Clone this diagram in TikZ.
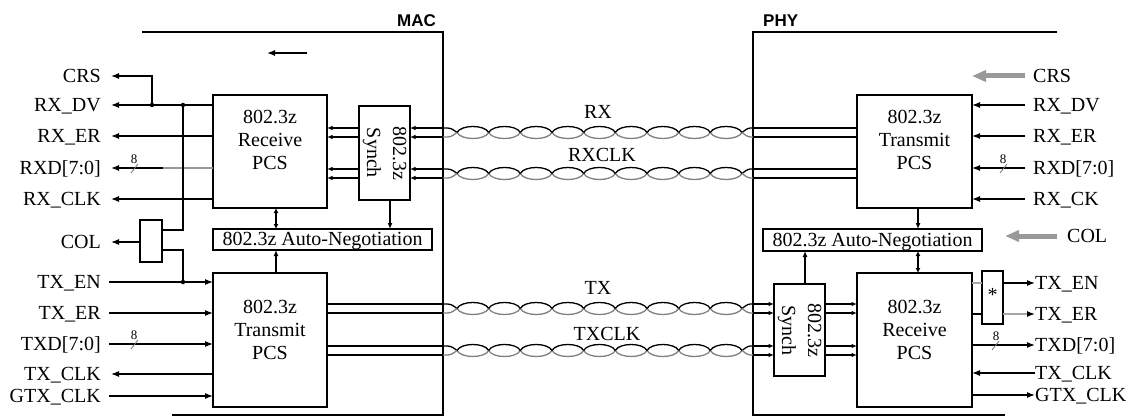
\documentclass[tikz,border=0pt]{standalone}
\usepackage{fontspec}
\setmainfont{Liberation Serif}
\newfontfamily\hdsans{Liberation Sans}
\usetikzlibrary{arrows.meta}
\tikzset{
  ln/.style={line width=1.2pt},
  arr/.style={ln,-{Latex[length=8pt,width=6pt]}},
  sarr/.style={line width=1.1pt,-{Latex[length=5.5pt,width=4.5pt]}},
  darr/.style={ln,{Latex[length=5pt,width=5pt]}-{Latex[length=5pt,width=5pt]}},
  garr/.style={line width=5pt,draw=black!40,-{Triangle[length=14pt,width=11pt]}},
  box/.style={draw,line width=1.2pt,inner sep=0pt,outer sep=0pt},
  lab/.style={font=\fontsize{20}{22}\selectfont,inner sep=0pt,text height=12.8pt,text depth=0pt},
  boxtxt/.style={align=center,inner sep=0pt,font=\fontsize{20}{23}\selectfont},
  syntxt/.style={align=center,inner sep=0pt,rotate=-90,font=\fontsize{20}{26}\selectfont},
  ttl/.style={font=\hdsans\bfseries\fontsize{17}{17}\selectfont,inner sep=0pt},
  cnt/.style={font=\fontsize{13}{13}\selectfont,inner sep=0pt},
  slashmk/.style={line width=0.8pt,draw=black!55},
  dot/.style={circle,fill,inner sep=0pt,minimum size=4.5pt},
  twtop/.style={line width=1.3pt,draw=black},
  twbot/.style={line width=1.3pt,draw=black!50}
}
% twisted pair between x=443 and x=753; #1 top y, #2 bottom y
\newcommand\twpair[2]{%
  \pgfmathsetmacro\ym{(#1+#2)/2}%
  \pgfmathsetmacro\yt{\ym-8}%
  \pgfmathsetmacro\yb{\ym+8}%
  \draw[twtop] (443,#1) .. controls (451,#1) .. (457,\ym);
  \draw[twbot] (443,#2) .. controls (451,#2) .. (457,\ym);
  \foreach \k in {0,...,8}{%
    \pgfmathsetmacro\xa{457+31.667*\k}%
    \pgfmathsetmacro\xb{\xa+31.667}%
    \draw[twbot] (\xa,\ym) .. controls (\xa+4,\yb) and (\xb-4,\yb) .. (\xb,\ym);
    \draw[twtop] (\xa,\ym) .. controls (\xa+4,\yt) and (\xb-4,\yt) .. (\xb,\ym);
  }
  \draw[twtop] (742,\ym) .. controls (748,#1) .. (753,#1);
  \draw[twbot] (742,\ym) .. controls (748,#2) .. (753,#2);
}
\begin{document}
\begin{tikzpicture}[x=1pt,y=-1pt]
\useasboundingbox (0,0) rectangle (1130,417);

% ---------- frames ----------
\coordinate (macTL) at (142,32);
\coordinate (macR) at (443,32);
\coordinate (macBR) at (443,415);
\coordinate (macBL) at (172,415);
\coordinate (phyL) at (753,32);
\coordinate (phyTR) at (1057,32);
\coordinate (phyBL) at (753,415);
\coordinate (phyBR) at (1005,415);
\draw[ln] (macTL) -- (macR) -- (macBR) -- (macBL);
\draw[ln] (phyTR) -- (phyL) -- (phyBL) -- (phyBR);
\node[ttl,anchor=base east] (mac) at (436,27) {MAC};
\node[ttl,anchor=base west] (phy) at (763,27) {PHY};
\coordinate (sa1) at (307,53);
\coordinate (sa2) at (267,53);
\draw[line width=1.4pt,-{Latex[length=8pt,width=6pt]}] (sa1) -- (sa2);

% ---------- bus rows ----------
\coordinate (rxa) at (600,128);
\coordinate (rxb) at (600,137);
\coordinate (rca) at (600,169);
\coordinate (rcb) at (600,178);
\coordinate (txa) at (600,304);
\coordinate (txb) at (600,313);
\coordinate (tca) at (600,346);
\coordinate (tcb) at (600,355);

% ---------- MAC boxes ----------
\node[box,minimum width=114pt,minimum height=113pt] (rxpcsM) at (270,151.5) {};
\node[boxtxt] (rxpcsMt) at (270,140) {802.3z\\Receive\\PCS};
\node[box,minimum width=114pt,minimum height=134pt] (txpcsM) at (270,340) {};
\node[boxtxt] (txpcsMt) at (270,330) {802.3z\\Transmit\\PCS};
\node[box,minimum width=219pt,minimum height=21pt] (anM) at (322.5,239.5) {};
\node[lab] (anMt) at (anM.center) {802.3z Auto-Negotiation};
\node[box,minimum width=51pt,minimum height=94pt] (synM) at (384.5,153) {};
\node[syntxt] (synMt) at (synM.center) {802.3z\\Synch};
\node[box,minimum width=22pt,minimum height=42pt] (colbox) at (151,241) {};

% ---------- MAC labels ----------
\node[lab,anchor=east] (lCRS) at (101,76) {CRS};
\node[lab,anchor=east] (lRXDV) at (101,105) {RX\_DV};
\node[lab,anchor=east] (lRXER) at (101,136) {RX\_ER};
\node[lab,anchor=east] (lRXD) at (101,168) {RXD[7:0]};
\node[lab,anchor=east] (lRXCLK) at (101,199) {RX\_CLK};
\node[lab,anchor=east] (lCOL) at (101,242) {COL};
\node[lab,anchor=east] (lTXEN) at (101,282) {TX\_EN};
\node[lab,anchor=east] (lTXER) at (101,313) {TX\_ER};
\node[lab,anchor=east] (lTXD) at (101,344) {TXD[7:0]};
\node[lab,anchor=east] (lTXCLK) at (101,374) {TX\_CLK};
\node[lab,anchor=east] (lGTX) at (101,396) {GTX\_CLK};

% ---------- MAC connectors ----------
\coordinate (jc) at (152,105);
\coordinate (jd) at (183,105);
\coordinate (jcol1) at (183,230);
\coordinate (jcol2) at (183,250);
\coordinate (jt) at (183,282);
\coordinate (rxdg) at (163,168);
\draw[arr] (rxpcsM.west |- lRXDV) -- ([xshift=10pt]lRXDV.east);
\draw[arr] (jc) |- ([xshift=10pt]lCRS.east);
\node[dot] (djc) at (jc) {};
\node[dot] (djd) at (jd) {};
\draw[arr] (rxpcsM.west |- lRXER) -- ([xshift=10pt]lRXER.east);
\draw[ln,draw=black!40] (rxpcsM.west |- lRXD) -- (rxdg);
\draw[arr] (rxdg) -- ([xshift=10pt]lRXD.east);
\draw[arr] (rxpcsM.west |- lRXCLK) -- ([xshift=10pt]lRXCLK.east);
\draw[ln] (jd) -- (jcol1) -- (colbox.east |- jcol1);
\draw[ln] (colbox.east |- jcol2) -- (jcol2) -- (jt);
\node[dot] (djt) at (jt) {};
\draw[arr] (colbox.west |- lCOL) -- ([xshift=10pt]lCOL.east);
\draw[arr] ([xshift=8pt]lTXEN.east) -- (txpcsM.west |- lTXEN);
\draw[arr] ([xshift=8pt]lTXER.east) -- (txpcsM.west |- lTXER);
\draw[arr] ([xshift=8pt]lTXD.east) -- (txpcsM.west |- lTXD);
\draw[arr] (txpcsM.west |- lTXCLK) -- ([xshift=10pt]lTXCLK.east);
\draw[arr] ([xshift=8pt]lGTX.east) -- (txpcsM.west |- lGTX);
% width marks
\draw[slashmk] (131,173) -- (138,164);
\node[cnt] (n8a) at (134,159) {8};
\draw[slashmk] (131,349) -- (138,340);
\node[cnt] (n8b) at (134,335) {8};

% internal MAC
\coordinate (vM) at (276,0);
\coordinate (vS) at (390,0);
\draw[darr] (rxpcsM.south -| vM) -- (anM.north -| vM);
\draw[ln,-{Latex[length=6pt,width=5pt]}] (txpcsM.north -| vM) -- (anM.south -| vM);
\draw[ln,-{Latex[length=6pt,width=5pt]}] (synM.south -| vS) -- (anM.north -| vS);
\foreach \r in {rxa,rxb,rca,rcb}{
  \draw[sarr] (synM.west |- \r) -- (rxpcsM.east |- \r);
  \draw[sarr] (macR |- \r) -- (synM.east |- \r);
}
\foreach \r in {txa,txb,tca,tcb}{
  \draw[ln] (txpcsM.east |- \r) -- (macR |- \r);
}

% ---------- twisted pairs ----------
\twpair{128}{137}
\twpair{169}{178}
\twpair{304}{313}
\twpair{346}{355}
\node[lab] (lRX) at (598,112) {RX};
\node[lab] (lRXC) at (602,155) {RXCLK};
\node[lab] (lTX) at (598,288) {TX};
\node[lab] (lTXC) at (607,334) {TXCLK};

% ---------- PHY boxes ----------
\node[box,minimum width=115pt,minimum height=113pt] (txpcsP) at (914.5,151.5) {};
\node[boxtxt] (txpcsPt) at (914.5,140) {802.3z\\Transmit\\PCS};
\node[box,minimum width=219pt,minimum height=22pt] (anP) at (872.5,240) {};
\node[lab] (anPt) at (anP.center) {802.3z Auto-Negotiation};
\node[box,minimum width=51pt,minimum height=92pt] (synP) at (799.5,330) {};
\node[syntxt] (synPt) at (synP.center) {802.3z\\Synch};
\node[box,minimum width=115pt,minimum height=134pt] (rxpcsP) at (914.5,340) {};
\node[boxtxt] (rxpcsPt) at (914.5,330) {802.3z\\Receive\\PCS};
\node[box,minimum width=21pt,minimum height=53pt] (star) at (992.5,297.5) {};
\node[lab,text height=8pt] (startxt) at (star.center) {*};

% ---------- PHY labels ----------
\node[lab,anchor=west] (rCRS) at (1033,76) {CRS};
\node[lab,anchor=west] (rRXDV) at (1033,105) {RX\_DV};
\node[lab,anchor=west] (rRXER) at (1033,136) {RX\_ER};
\node[lab,anchor=west] (rRXD) at (1033,168) {RXD[7:0]};
\node[lab,anchor=west] (rRXCK) at (1033,199) {RX\_CK};
\node[lab,anchor=west] (rCOL) at (1067,236) {COL};
\node[lab,anchor=west] (rTXEN) at (1035,283) {TX\_EN};
\node[lab,anchor=west] (rTXER) at (1035,314) {TX\_ER};
\node[lab,anchor=west] (rTXD) at (1035,345) {TXD[7:0]};
\node[lab,anchor=west] (rTXCLK) at (1035,373) {TX\_CLK};
\node[lab,anchor=west] (rGTX) at (1035,395) {GTX\_CLK};

% ---------- PHY connectors ----------
\coordinate (colTip) at (1005,236);
\draw[garr] ([xshift=-8pt]rCRS.west) -- (txpcsP.east |- rCRS);
\draw[arr] ([xshift=-8pt]rRXDV.west) -- (txpcsP.east |- rRXDV);
\draw[arr] ([xshift=-8pt]rRXER.west) -- (txpcsP.east |- rRXER);
\draw[arr] ([xshift=-8pt]rRXD.west) -- (txpcsP.east |- rRXD);
\draw[arr] ([xshift=-8pt]rRXCK.west) -- (txpcsP.east |- rRXCK);
\draw[garr] ([xshift=-10pt]rCOL.west) -- (colTip);
\draw[ln,draw=black!35] (rxpcsP.east |- rTXEN) -- (star.west |- rTXEN);
\draw[ln] (rxpcsP.east |- rTXER) -- (star.west |- rTXER);
\draw[arr] (star.east |- rTXEN) -- (rTXEN.west);
\draw[ln,draw=black!35,-{Latex[length=8pt,width=6pt,color=black]}] (star.east |- rTXER) -- (rTXER.west);
\draw[arr] (rxpcsP.east |- rTXD) -- (rTXD.west);
\draw[arr] (rTXCLK.west) -- (rxpcsP.east |- rTXCLK);
\draw[arr] (rxpcsP.east |- rGTX) -- (rGTX.west);
\draw[slashmk] (1000,173) -- (1007,164);
\node[cnt] (n8c) at (1003,159) {8};
\draw[slashmk] (992,350) -- (999,341);
\node[cnt] (n8d) at (996,336) {8};

% internal PHY
\coordinate (vP) at (918,0);
\coordinate (vPS) at (805,0);
\draw[ln,-{Latex[length=6pt,width=5pt]}] (txpcsP.south -| vP) -- (anP.north -| vP);
\draw[darr] (anP.south -| vP) -- (rxpcsP.north -| vP);
\draw[ln,-{Latex[length=6pt,width=5pt]}] (synP.north -| vPS) -- (anP.south -| vPS);
\foreach \r in {rxa,rxb,rca,rcb}{
  \draw[ln] (phyL |- \r) -- (txpcsP.west |- \r);
}
\foreach \r in {txa,txb,tca,tcb}{
  \draw[sarr] (phyL |- \r) -- (synP.west |- \r);
  \draw[sarr] (synP.east |- \r) -- (rxpcsP.west |- \r);
}
\end{tikzpicture}
\end{document}
